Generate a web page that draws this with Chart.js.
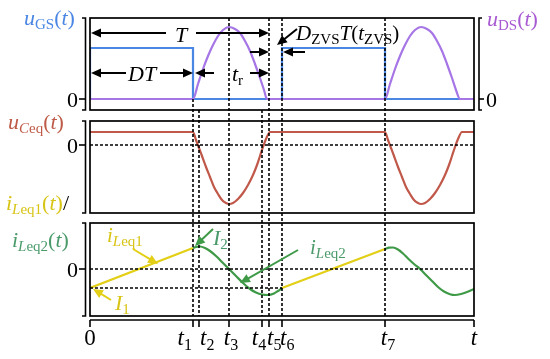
<!DOCTYPE html>
<html>
<head>
<meta charset="utf-8">
<script src="https://cdn.jsdelivr.net/npm/chart.js@4.4.1/dist/chart.umd.min.js"></script>
<style>
  body { margin: 0; background: #fff; }
  #wrap { position: relative; width: 550px; height: 359px; }
  canvas { position: absolute; left: 0; }
</style>
</head>
<body>
<div id="wrap">
  <canvas id="cTop" width="550" height="115" style="top:0"></canvas>
  <canvas id="cMid" width="550" height="103" style="top:115px"></canvas>
  <canvas id="cBot" width="550" height="141" style="top:218px"></canvas>
</div>
<script>
// time instants on the t axis
const tTicks = [0, 103, 109, 139, 172, 179, 192, 295, 384];
const tLabels = ["0", "t1", "t2", "t3", "t4", "t5", "t6", "t7", "t"];
const T_END = 384;

// uGS (gate pulse)
const gsTime = [0, 0, 103, 103, 192, 192, 295, 295, 384];
const gsVal = [0, 51, 51, 0, 0, 51, 51, 0, 0];

// uDS (resonant hump)
const dsTime = [0, 103, 108, 113, 118, 123, 128, 133, 139, 145, 150, 155, 160, 165, 170, 174, 177,
  295, 300, 305, 310, 315, 320, 325, 331, 337, 342, 347, 352, 357, 362, 366, 370, 384];
const dsVal = [0, 0, 15, 30, 43, 54, 63, 69, 72, 70, 66, 58, 48, 35, 21, 9, 0,
  0, 15, 30, 43, 54, 63, 69, 72, 70, 66, 58, 48, 35, 21, 9, 0, 0];

// uCeq
const ceqTime = [0, 103, 106, 109, 112, 116, 120, 124, 128, 132, 136, 139, 143, 148, 153, 158, 163, 167, 170, 173, 176, 180,
  295, 298, 301, 304, 308, 312, 316, 320, 324, 328, 331, 335, 340, 345, 350, 355, 359, 362, 365, 368, 372, 384];
const ceqVal = [13, 13, 5, -3, -11, -22, -32, -42, -49, -55, -58, -59, -58, -54, -48, -40, -30, -20, -11, -2, 6, 13,
  13, 5, -3, -11, -22, -32, -42, -49, -55, -58, -59, -58, -54, -48, -40, -30, -20, -11, -2, 6, 13, 13];

// iLeq1 (linear ramps)
const l1TimeA = [0, 103];
const l1ValA = [-19, 21];
const l1TimeB = [192, 295];
const l1ValB = [-19, 20];

// iLeq2 (resonant parts)
const l2TimeA = [103, 106, 110, 115, 120, 126, 132, 139, 146, 153, 160, 166, 172, 178, 184, 188, 192];
const l2ValA = [21, 22, 22.5, 21, 18, 13, 7, 0, -7, -14, -20, -23.5, -25.5, -26, -24.5, -22, -19];
const l2TimeB = [295, 299, 303, 308, 313, 318, 324, 330, 336, 342, 348, 354, 360, 365, 371, 377, 384];
const l2ValB = [20, 21.3, 21.5, 19.5, 15.5, 10.5, 5, 0, -6, -12, -18, -22.5, -25.2, -26, -25, -23, -20];

const I1 = -19;

const BLUE = "#4a86e4", PURPLE = "#a676e6", BROWN = "#c0594a", YELLOW = "#e2cf16", GREEN = "#3f9a48";
const FONT = '"Liberation Serif", "DejaVu Serif", serif';

// --- drawing helpers ---
function rich(ctx, parts, x, y, color, size, align) {
  const sub = Math.round(size * 0.7);
  const fontOf = (s) => s[0] === "s"
    ? (s === "si" ? "italic " : "") + sub + "px " + FONT
    : (s === "i" ? "italic " : "") + size + "px " + FONT;
  let w = 0;
  parts.forEach((p) => { ctx.font = fontOf(p[1]); w += ctx.measureText(p[0]).width; });
  let cx = align === "center" ? x - w / 2 : align === "right" ? x - w : x;
  ctx.save();
  ctx.textAlign = "left";
  ctx.textBaseline = "alphabetic";
  parts.forEach((p) => {
    ctx.font = fontOf(p[1]);
    ctx.fillStyle = p[2] || color;
    ctx.fillText(p[0], cx, y + (p[1][0] === "s" ? size * 0.2 : 0));
    cx += ctx.measureText(p[0]).width;
  });
  ctx.restore();
}

function arrow(ctx, x1, y1, x2, y2, color) {
  const a = Math.atan2(y2 - y1, x2 - x1);
  const L = 10, W = 4.5;
  ctx.save();
  ctx.strokeStyle = color;
  ctx.fillStyle = color;
  ctx.lineWidth = 2;
  ctx.beginPath();
  ctx.moveTo(x1, y1);
  ctx.lineTo(x2 - Math.cos(a) * L * 0.8, y2 - Math.sin(a) * L * 0.8);
  ctx.stroke();
  ctx.beginPath();
  ctx.moveTo(x2, y2);
  ctx.lineTo(x2 - Math.cos(a) * L - Math.sin(a) * W, y2 - Math.sin(a) * L + Math.cos(a) * W);
  ctx.lineTo(x2 - Math.cos(a) * L + Math.sin(a) * W, y2 - Math.sin(a) * L - Math.cos(a) * W);
  ctx.closePath();
  ctx.fill();
  ctx.restore();
}

function dashed(ctx, x1, y1, x2, y2) {
  ctx.save();
  ctx.strokeStyle = "#000";
  ctx.lineWidth = 1.6;
  ctx.setLineDash([3, 2]);
  ctx.beginPath();
  ctx.moveTo(x1, y1);
  ctx.lineTo(x2, y2);
  ctx.stroke();
  ctx.restore();
}

function solid(ctx, pts, w) {
  ctx.save();
  ctx.strokeStyle = "#000";
  ctx.lineWidth = w || 1.6;
  ctx.beginPath();
  ctx.moveTo(pts[0], pts[1]);
  for (let i = 2; i < pts.length; i += 2) ctx.lineTo(pts[i], pts[i + 1]);
  ctx.stroke();
  ctx.restore();
}

// vertical guide lines: start y (page coords) per tick, all end at the bottom panel
const guideFrom = [null, 99, 110, 18, 110, 18, 18, 18, null];
const GUIDE_END = 316;

function common(chart, off, zeroVal) {
  const ctx = chart.ctx;
  const a = chart.chartArea;
  const xs = (v) => chart.scales.x.getPixelForValue(v);
  const Y = (v) => chart.scales.y.getPixelForValue(v) + off;
  ctx.save();
  ctx.translate(0, -off);
  tTicks.forEach((t, i) => {
    if (guideFrom[i] !== null) dashed(ctx, xs(t), guideFrom[i], xs(t), GUIDE_END);
  });
  const top = a.top + off, bot = a.bottom + off;
  ctx.save();
  ctx.strokeStyle = "#000";
  ctx.lineWidth = 1.7;
  ctx.strokeRect(a.left, top, a.right - a.left, bot - top);
  ctx.restore();
  // left bracket
  solid(ctx, [82, top, 85.5, top, 85.5, bot, 82, bot]);
  solid(ctx, [79, Y(zeroVal), 85.5, Y(zeroVal)]);
  rich(ctx, [["0", "r"]], 78, Y(zeroVal) + 7.5, "#000", 22, "right");
  return { ctx, xs, Y, top, bot };
}

function lineSet(tx, vy, color, curved) {
  return {
    data: tx.map((t, i) => ({ x: t, y: vy[i] })),
    borderColor: color,
    borderWidth: 2.2,
    pointRadius: 0,
    fill: false,
    tension: curved ? 0.4 : 0,
    cubicInterpolationMode: curved ? "monotone" : "default",
  };
}

function makeChart(id, datasets, yMin, yMax, pad, deco) {
  return new Chart(document.getElementById(id), {
    type: "line",
    data: { datasets: datasets },
    options: {
      responsive: false,
      animation: false,
      events: [],
      layout: { padding: pad },
      plugins: { legend: { display: false }, tooltip: { enabled: false } },
      scales: {
        x: { type: "linear", min: 0, max: T_END, display: false },
        y: { min: yMin, max: yMax, display: false },
      },
    },
    plugins: [{ id: id + "Deco", afterDraw: deco }],
  });
}

// --- top panel: uGS / uDS ---
makeChart("cTop", [lineSet(dsTime, dsVal, PURPLE, true), lineSet(gsTime, gsVal, BLUE, false)],
  -11, 81, { left: 90, right: 76, top: 18, bottom: 5 },
  (chart) => {
    const { ctx, xs, Y, top, bot } = common(chart, 0, 0);
    // right bracket
    solid(ctx, [482, top, 479, top, 479, bot, 482, bot]);
    solid(ctx, [479, Y(0), 484, Y(0)]);
    rich(ctx, [["0", "r"]], 486, Y(0) + 8, "#000", 22, "left");
    rich(ctx, [["u", "i"], ["GS", "sr"], ["(", "r"], ["t", "i"], [")", "r"]], 24, 25, BLUE, 22);
    rich(ctx, [["u", "i"], ["DS", "sr"], ["(", "r"], ["t", "i"], [")", "r"]], 487, 26, "#a85ad2", 22);
    // T
    rich(ctx, [["T", "i"]], 181, 42, "#000", 22, "center");
    arrow(ctx, 166, Y(66), xs(0) + 1, Y(66), "#000");
    arrow(ctx, 196, Y(66), xs(tTicks[5]), Y(66), "#000");
    // DT
    rich(ctx, [["DT", "i"]], 128, 81, "#000", 22);
    arrow(ctx, 126, Y(26), xs(0) + 1, Y(26), "#000");
    arrow(ctx, 160, Y(26), xs(tTicks[1]), Y(26), "#000");
    // tr
    rich(ctx, [["t", "i"], ["r", "sr"]], 232, 81, "#000", 22);
    arrow(ctx, 214, Y(26), xs(tTicks[1]) + 2, Y(26), "#000");
    arrow(ctx, 250, Y(26), xs(tTicks[5]), Y(26), "#000");
    // DZVS T (tZVS)
    arrow(ctx, 250, Y(47), xs(tTicks[5]), Y(47), "#000");
    arrow(ctx, 305, Y(47), xs(tTicks[6]) + 1, Y(47), "#000");
    arrow(ctx, 297, 29, 277, 45, "#000");
    rich(ctx, [["D", "i"], ["ZVS", "sr"], ["T", "i"], ["(", "r"], ["t", "i"], ["ZVS", "sr"], [")", "r"]], 296, 40, "#000", 21);
    ctx.restore();
  });

// --- middle panel: uCeq ---
makeChart("cMid", [lineSet(ceqTime, ceqVal, BROWN, true)],
  -68, 24, { left: 90, right: 76, top: 6, bottom: 5 },
  (chart) => {
    const { ctx, xs, Y } = common(chart, 115, 0);
    dashed(ctx, xs(0), Y(0), xs(T_END), Y(0));
    rich(ctx, [["u", "i"], ["C", "si"], ["eq", "sr"], ["(", "r"], ["t", "i"], [")", "r"]], 8, 129, "#bf5a48", 22);
    rich(ctx, [["i", "i"], ["L", "si"], ["eq1", "sr"], ["(", "r"], ["t", "i"], [")", "r"], ["/", "r", "#000"]], 6, 210, "#d8c414", 22);
    ctx.restore();
  });

// --- bottom panel: iLeq1 / iLeq2 ---
makeChart("cBot", [
    lineSet(l2TimeA, l2ValA, GREEN, true), lineSet(l2TimeB, l2ValB, GREEN, true),
    lineSet(l1TimeA, l1ValA, YELLOW, false), lineSet(l1TimeB, l1ValB, YELLOW, false)],
  -47, 46, { left: 90, right: 76, top: 5, bottom: 43 },
  (chart) => {
    const { ctx, xs, Y } = common(chart, 218, 0);
    dashed(ctx, xs(0), Y(0), xs(T_END), Y(0));
    dashed(ctx, xs(0), Y(I1), xs(tTicks[6]), Y(I1));
    rich(ctx, [["i", "i"], ["L", "si"], ["eq2", "sr"], ["(", "r"], ["t", "i"], [")", "r"]], 12, 247, "#4a9a6a", 22);
    rich(ctx, [["i", "i"], ["L", "si"], ["eq1", "sr"]], 107, 242, "#d8c414", 21);
    arrow(ctx, 133, 249, 158, 264, YELLOW);
    rich(ctx, [["I", "i"], ["1", "sr"]], 115, 310, "#d8c414", 22);
    arrow(ctx, 111, 300, 93, 289, YELLOW);
    rich(ctx, [["I", "i"], ["2", "sr"]], 213, 245, "#4a9a6a", 22);
    arrow(ctx, 213, 229, 195, 246, GREEN);
    rich(ctx, [["i", "i"], ["L", "si"], ["eq2", "sr"]], 310, 254, "#4a9a6a", 21);
    arrow(ctx, 298, 250, 240, 283, GREEN);
    // time axis
    solid(ctx, [xs(0), 320, xs(T_END), 320]);
    tTicks.forEach((t) => solid(ctx, [xs(t), 320, xs(t), 327]));
    const labelShift = [0, -1, 1, 2, -3, -2, -2, 3, 0];
    const labelAlign = ["center", "right", "left", "center", "center", "left", "left", "center", "center"];
    tLabels.forEach((lab, i) => {
      const parts = lab === "0" ? [["0", "r"]] : lab.length > 1 ? [["t", "i"], [lab.slice(1), "sr"]] : [["t", "i"]];
      rich(ctx, parts, xs(tTicks[i]) + labelShift[i], 345, "#000", 23, labelAlign[i]);
    });
    ctx.restore();
  });
</script>
</body>
</html>
